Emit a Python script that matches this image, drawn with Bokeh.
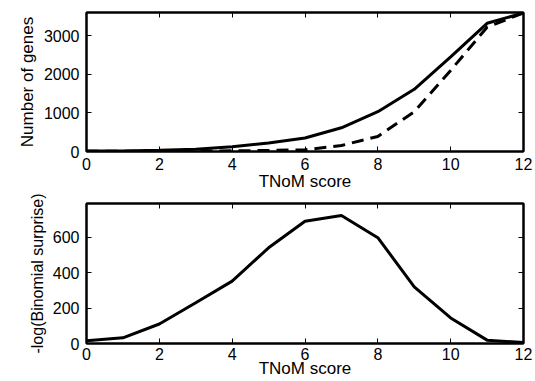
from bokeh.plotting import figure
from bokeh.models import LinearAxis, FixedTicker, Range1d
from bokeh.layouts import column
from bokeh.embed import file_html
from bokeh.resources import INLINE

scores = [0, 1, 2, 3, 4, 5, 6, 7, 8, 9, 10, 11, 12]
genes_solid = [10, 15, 30, 60, 125, 220, 350, 615, 1030, 1610, 2450, 3320, 3590]
genes_dashed = [5, 5, 8, 12, 18, 25, 45, 155, 390, 1030, 2100, 3220, 3590]
surprise = [15, 32, 110, 230, 352, 540, 690, 722, 597, 320, 144, 19, 5]

x_ticks = [0, 2, 4, 6, 8, 10, 12]
top_y_ticks = [0, 1000, 2000, 3000]
bot_y_ticks = [0, 200, 400, 600]

FONT = "Liberation Sans"


def style(p, yticks, xlabel, ylabel, ylabel_size="17px", tick_standoff=6, label_standoff=-1):
    p.grid.visible = False
    p.outline_line_color = "black"
    p.outline_line_width = 2
    p.background_fill_color = "white"
    p.border_fill_color = "white"
    for ax in p.xaxis:
        ax.ticker = FixedTicker(ticks=x_ticks)
    for ax in p.yaxis:
        ax.ticker = FixedTicker(ticks=yticks)
    for ax in list(p.xaxis) + list(p.yaxis):
        ax.major_tick_in = 5
        ax.major_tick_out = 0
        ax.minor_tick_in = 0
        ax.minor_tick_out = 0
        ax.axis_line_width = 2
        ax.major_tick_line_width = 1
        ax.major_label_text_font = FONT
        ax.major_label_text_font_size = "16px"
        ax.major_label_text_color = "black"
        ax.axis_label_text_font = FONT
        ax.axis_label_text_font_size = "17px"
        ax.axis_label_text_font_style = "normal"
        ax.axis_label_text_color = "black"
    p.xaxis.axis_label = xlabel
    p.xaxis.major_label_standoff = tick_standoff
    p.xaxis.axis_label_standoff = label_standoff
    p.yaxis.axis_label = ylabel
    p.yaxis.axis_label_text_font_size = ylabel_size
    p.yaxis.major_label_standoff = 7
    p.yaxis.axis_label_standoff = 4
    # box ticks on top and right, MATLAB style (no labels)
    top = LinearAxis(ticker=FixedTicker(ticks=x_ticks))
    right = LinearAxis(ticker=FixedTicker(ticks=yticks))
    top.major_label_overrides = {t: "" for t in x_ticks}
    right.major_label_overrides = {t: "" for t in yticks}
    for ax in (top, right):
        ax.major_tick_in = 5
        ax.major_tick_out = 0
        ax.minor_tick_in = 0
        ax.minor_tick_out = 0
        ax.axis_line_width = 2
        ax.major_label_standoff = 0
    p.add_layout(top, "above")
    p.add_layout(right, "right")


p1 = figure(width=535, height=193, output_backend="svg", toolbar_location=None,
            x_range=Range1d(0, 12), y_range=Range1d(0, 3600),
            min_border_left=86, min_border_right=12, min_border_top=12, min_border_bottom=42)
p1.line(scores, genes_solid, line_color="black", line_width=3)
p1.line(scores, genes_dashed, line_color="black", line_width=3, line_dash="12 7")
style(p1, top_y_ticks, "TNoM score", "Number of genes")

p2 = figure(width=535, height=188, output_backend="svg", toolbar_location=None,
            x_range=Range1d(0, 12), y_range=Range1d(0, 790),
            min_border_left=86, min_border_right=12, min_border_top=10, min_border_bottom=38)
p2.line(scores, surprise, line_color="black", line_width=3)
style(p2, bot_y_ticks, "TNoM score", "-log(Binomial surprise)", ylabel_size="16px",
      tick_standoff=4, label_standoff=-4)

layout = column(p1, p2, spacing=0)
open("out.html", "w").write(file_html(layout, INLINE))
